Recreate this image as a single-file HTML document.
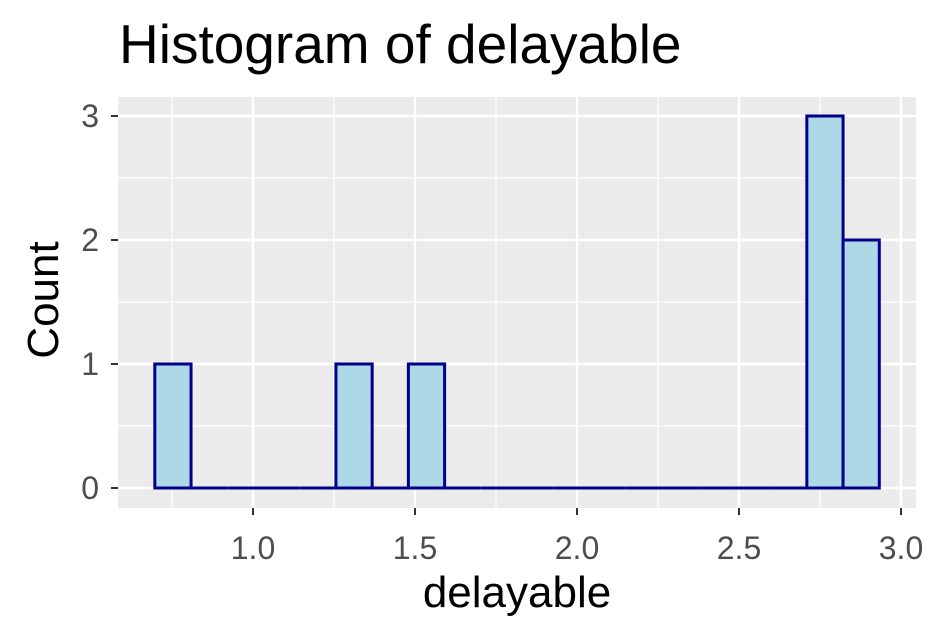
<!DOCTYPE html>
<html><head><meta charset="utf-8"><style>body{margin:0;background:#fff}svg{display:block}text{font-family:"Liberation Sans",Arial,sans-serif}</style></head>
<body>
<svg id="chart" width="940" height="640">
<text x="119" y="63" font-size="55" fill="#000">Histogram of delayable</text>
<rect x="118" y="97" width="798" height="411" fill="#EBEBEB"/>
<g id="grid"></g><g id="bars"></g><g id="axes"></g>
<text x="517" y="607" font-size="44" text-anchor="middle">delayable</text>
<text transform="translate(58,300) rotate(-90)" font-size="44" text-anchor="middle">Count</text>
</svg>
<script>
const binStart = 0.697;
const binWidth = 0.1118;
const counts = [1,0,0,0,0,1,0,1,0,0,0,0,0,0,0,0,0,0,3,2];
const xTicks = [1.0,1.5,2.0,2.5,3.0];
const xTickLabels = ["1.0","1.5","2.0","2.5","3.0"];
const yTicks = [0,1,2,3];
const yTickLabels = ["0","1","2","3"];
const NS="http://www.w3.org/2000/svg";
const X=v=>253+(v-1)*324, Y=v=>488-v*124;
function mk(tag,attrs,parent){const e=document.createElementNS(NS,tag);for(const k in attrs)e.setAttribute(k,attrs[k]);document.getElementById(parent).appendChild(e);return e;}
for(let i=0;i<xTicks.length;i++){const m=xTicks[i]-0.25;
 const l=mk('line',{x1:X(m),x2:X(m),y1:97,y2:508,stroke:'#fff','stroke-width':1.2},'grid');
 
 }
for(let i=0;i<yTicks.length-1;i++){const m=yTicks[i]+0.5;
 const l=mk('line',{x1:118,x2:916,y1:Y(m),y2:Y(m),stroke:'#fff','stroke-width':1.2},'grid');
 
 }
xTicks.forEach((t,i)=>{
 const l=mk('line',{x1:X(t),x2:X(t),y1:97,y2:508,stroke:'#fff','stroke-width':2.4},'grid');
 
 
 const tk=mk('line',{x1:X(t),x2:X(t),y1:508,y2:515,stroke:'#333','stroke-width':2},'axes');
 
 
 const tx=mk('text',{x:X(t),y:559,'font-size':32,fill:'#4D4D4D','text-anchor':'middle'},'axes');
 tx.textContent=xTickLabels[i];
 
 
});
yTicks.forEach((t,i)=>{
 const l=mk('line',{x1:118,x2:916,y1:Y(t),y2:Y(t),stroke:'#fff','stroke-width':2.4},'grid');
 
 
 const tk=mk('line',{x1:111,x2:118,y1:Y(t),y2:Y(t),stroke:'#333','stroke-width':2},'axes');
 
 
 const tx=mk('text',{x:99,y:Y(t)+11,'font-size':32,fill:'#4D4D4D','text-anchor':'end'},'axes');
 tx.textContent=yTickLabels[i];
 
 
});
counts.forEach((c,i)=>{
 const x0=X(binStart+i*binWidth), x1=X(binStart+(i+1)*binWidth);
 if(c===0){
  const z=mk('line',{x1:x0,x2:x1,y1:Y(0),y2:Y(0),stroke:'#00008B','stroke-width':3},'bars');
  
  
 } else {
  const r=mk('rect',{x:x0,y:Y(c),width:x1-x0,height:Y(0)-Y(c),fill:'#ADD8E6',stroke:'#00008B','stroke-width':3},'bars');
  
  
 }
});
</script>
</body></html>
